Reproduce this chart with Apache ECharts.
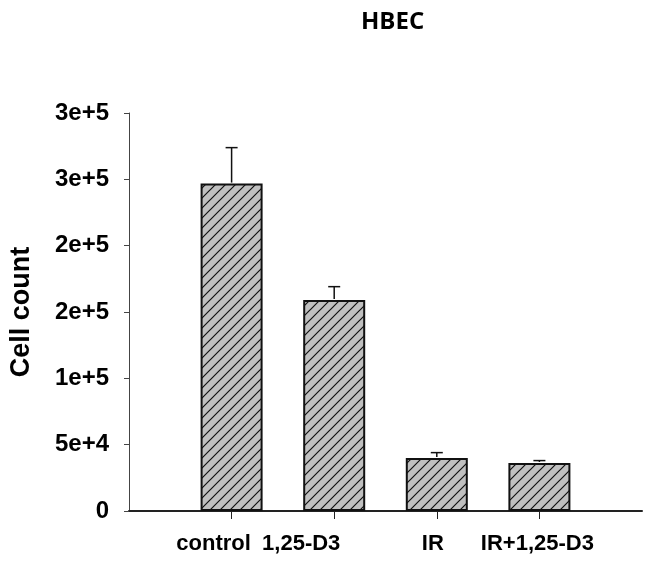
<!DOCTYPE html>
<html>
<head>
<meta charset="utf-8">
<script src="https://cdn.jsdelivr.net/npm/echarts@6/dist/echarts.min.js"></script>
<style>
  html, body { margin: 0; padding: 0; background: #fff; }
  #main { width: 645px; height: 567px; }
</style>
</head>
<body>
<div id="main"></div>
<script>
// values
const categories = ['control', '1,25-D3', 'IR', 'IR+1,25-D3']
const cellCount = [246800, 159000, 40000, 36200]
const errorTop = [273900, 169100, 44000, 38000]
const yTickLabels = ['0', '5e+4', '1e+5', '2e+5', '2e+5', '3e+5', '3e+5']

// padding slots so the x axis starts at the y axis, like the original
const axisCats = [''].concat(categories, [''])
// the original labels sit a bit left of their ticks
const labelShift = [0, 18, 33, 4, 2, 0]

// hatched grey fill
function hatch() {
  const c = document.createElement('canvas')
  c.width = 10
  c.height = 10
  const ctx = c.getContext('2d')
  ctx.fillStyle = '#c0c0c0'
  ctx.fillRect(0, 0, 10, 10)
  ctx.strokeStyle = '#111'
  ctx.lineWidth = 1.2
  ctx.beginPath()
  ctx.moveTo(0, 10); ctx.lineTo(10, 0)
  ctx.moveTo(-2, 2); ctx.lineTo(2, -2)
  ctx.moveTo(8, 12); ctx.lineTo(12, 8)
  ctx.stroke()
  return c
}

const chart = echarts.init(document.getElementById('main'), null, { renderer: 'canvas' })

const axisFont = {
  fontFamily: '"Liberation Sans", Arial, sans-serif',
  fontWeight: 'bold',
  color: '#000'
}

const rich = {}
labelShift.forEach((s, i) => {
  rich['l' + i] = Object.assign({ fontSize: 22, padding: [0, s * 2, 0, 0] }, axisFont)
})

const option = {
  backgroundColor: '#ffffff',
  animation: false,
  title: {
    text: 'HBEC',
    left: 356,
    top: 5,
    textStyle: {
      fontFamily: '"Open Sans", sans-serif',
      fontWeight: 'bold',
      fontSize: 24,
      color: '#000'
    }
  },
  grid: {
    left: 127,
    right: -6,
    top: 113,
    bottom: 56
  },
  xAxis: {
    type: 'category',
    data: axisCats,
    boundaryGap: false,
    axisLine: { lineStyle: { color: '#222', width: 2 } },
    axisTick: {
      length: 8,
      interval: (i) => i > 0 && i < axisCats.length - 1,
      lineStyle: { color: '#222', width: 1 }
    },
    axisLabel: Object.assign({
      fontSize: 22,
      margin: 22,
      interval: 0,
      formatter: (v, i) => (v ? '{l' + i + '|' + v + '}' : ''),
      rich: rich
    }, axisFont),
    splitLine: { show: false }
  },
  yAxis: {
    type: 'value',
    min: 0,
    max: 300000,
    interval: 50000,
    name: 'Cell count',
    nameLocation: 'middle',
    nameRotate: 90,
    nameGap: 94,
    nameTextStyle: Object.assign({ fontSize: 27 }, axisFont),
    axisLine: { show: true, lineStyle: { color: '#444', width: 1 } },
    axisTick: { show: true, length: 5, lineStyle: { color: '#444', width: 1 } },
    axisLabel: Object.assign({
      fontSize: 24,
      margin: 20,
      formatter: (v) => yTickLabels[Math.round(v / 50000)]
    }, axisFont),
    splitLine: { show: false }
  },
  series: [
    {
      type: 'bar',
      barWidth: 62,
      data: categories.map((c, i) => [c, cellCount[i]]),
      itemStyle: {
        color: { image: hatch(), repeat: 'repeat' },
        borderColor: '#111',
        borderWidth: 2
      }
    },
    {
      type: 'custom',
      data: categories.map((c, i) => [c, cellCount[i], errorTop[i]]),
      z: 5,
      renderItem: function (params, api) {
        const base = api.coord([api.value(0), api.value(1)])
        const top = api.coord([api.value(0), api.value(2)])
        const st = { stroke: '#111', lineWidth: 1.5 }
        return {
          type: 'group',
          children: [
            { type: 'line', shape: { x1: base[0], y1: base[1] - 1, x2: top[0], y2: top[1] }, style: st },
            { type: 'line', shape: { x1: top[0] - 6, y1: top[1], x2: top[0] + 6, y2: top[1] }, style: st }
          ]
        }
      }
    }
  ]
}

chart.setOption(option)
</script>
</body>
</html>
